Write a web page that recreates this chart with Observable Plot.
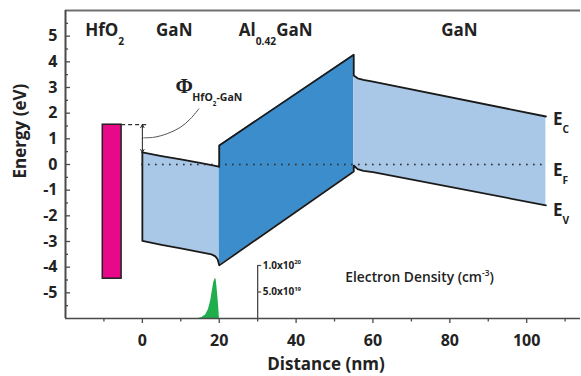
<!DOCTYPE html>
<html><head><meta charset="utf-8">
<script src="https://cdn.jsdelivr.net/npm/d3@7"></script>
<script src="https://cdn.jsdelivr.net/npm/@observablehq/plot@0.6"></script>
<style>html,body{margin:0;padding:0;background:#fff}</style>
</head><body><div id="chart"></div>
<script>
// ---------- data ----------
const regionNames   = ["HfO_{2}", "GaN", "Al_{0.42}GaN", "GaN"];
const regionCenters = [-9.8, 8.3, 34.7, 82.5];

const hfo2X1 = -10.3, hfo2X2 = -5.4, hfo2Ec = 1.55, hfo2Ev = -4.45;

const gan1X  = [0, 5, 10, 15, 18, 19, 19.6, 20];
const gan1Ec = [0.47, 0.33, 0.2, 0.06, -0.02, -0.05, -0.07, -0.09];
const gan1Ev = [-2.98, -3.13, -3.27, -3.41, -3.5, -3.58, -3.7, -3.93];

const alganX  = [20, 55];
const alganEc = [0.74, 4.28];
const alganEv = [-3.93, -0.27];

const gan2X  = [55, 56, 57.5, 60, 105];
const gan2Ec = [3.47, 3.36, 3.3, 3.23, 1.87];
const gan2Ev = [-0.04, -0.18, -0.25, -0.3, -1.59];

const fermiLevel = 0;

// electron density (units of 1e19 cm^-3)
const densX = [14.5, 15.5, 16.5, 17.2, 17.8, 18.2, 18.6, 19.0, 19.2, 19.4, 19.6, 19.85, 20.05];
const densN = [0, 0.2, 0.7, 1.7, 3.4, 5.2, 6.9, 7.6, 7.3, 6.0, 4.4, 2.3, 0];
const densAxisX = 30;
const densTicks = [5, 10];
const densTickLabels = ["5.0x10^{19}", "1.0x10^{20}"];

// leader line from the barrier arrow to the Φ label
const leaderX = [0.36, 2.97, 6.45, 9.91, 12.5, 14.7];
const leaderY = [1.04, 1.06, 1.2, 1.45, 1.78, 2.17];

const xMajor = [0, 20, 40, 60, 80, 100];
const xMinor = [-10, 10, 30, 50, 70, 90, 110];
const yMajor = [-5, -4, -3, -2, -1, 0, 1, 2, 3, 4, 5];
const yMinor = [-5.5, -4.5, -3.5, -2.5, -1.5, -0.5, 0.5, 1.5, 2.5, 3.5, 4.5, 5.5];

const bandLabels = ["E_{C}", "E_{F}", "E_{V}"];

// ---------- layout ----------
const W = 581, H = 376, ML = 65, MR = 1, MT = 10, MB = 58;
const xDomain = [-20, 114], yDomain = [-6, 6];
const pxX = (W - ML - MR) / (xDomain[1] - xDomain[0]);
const pxY = (H - MT - MB) / (yDomain[1] - yDomain[0]);
const densPx = 53; // pixels per 1e20
const toE = n => yDomain[0] + (n / 10) * densPx / pxY;

const rows = [];
function addLayer(layer, xs, ec, ev) { xs.forEach((x, i) => rows.push({layer, x, ec: ec[i], ev: ev[i]})); }
addLayer("GaN1", gan1X, gan1Ec, gan1Ev);
addLayer("AlGaN", alganX, alganEc, alganEv);
addLayer("GaN2", gan2X, gan2Ec, gan2Ev);

const dens = densX.map((x, i) => ({x, n: densN[i]}));
const leader = leaderX.map((x, i) => ({x, y: leaderY[i]}));
const regions = regionNames.map((name, i) => ({name, x: regionCenters[i]}));
const xEnd = gan2X[gan2X.length - 1];
const bandEnds = [gan2Ec[gan2Ec.length - 1], fermiLevel, gan2Ev[gan2Ev.length - 1]]
  .map((y, i) => ({x: xEnd, y, label: bandLabels[i]}));
const bandDy = [3, 6, 5];

const light = "#a9c7e6", dark = "#3b8dcc", magenta = "#e8088a", green = "#1fae4b";
const axisCol = "#4a4a4a";

const chart = Plot.plot({
  width: W, height: H,
  marginLeft: ML, marginRight: MR, marginTop: MT, marginBottom: MB,
  x: {domain: xDomain},
  y: {domain: yDomain},
  style: {fontFamily: "'Open Sans', sans-serif", fontSize: "16px", fontWeight: "bold", color: "#222", background: "#fff"},
  marks: [
    // bands
    Plot.areaY(rows.filter(d => d.layer === "GaN1"), {x: "x", y1: "ev", y2: "ec", fill: light}),
    Plot.areaY(rows.filter(d => d.layer === "AlGaN"), {x: "x", y1: "ev", y2: "ec", fill: dark}),
    Plot.areaY(rows.filter(d => d.layer === "GaN2"), {x: "x", y1: "ev", y2: "ec", fill: light}),
    Plot.line(rows, {x: "x", y: "ec", stroke: "#1a1a1a", strokeWidth: 1.8}),
    Plot.line(rows, {x: "x", y: "ev", stroke: "#1a1a1a", strokeWidth: 1.8}),
    Plot.ruleX([gan1X[0]], {y1: gan1Ev[0], y2: gan1Ec[0], stroke: "#1a1a1a", strokeWidth: 1.8}),
    // Fermi level
    Plot.ruleY([fermiLevel], {x1: gan1X[0], x2: xEnd, stroke: "#333", strokeWidth: 1.8, strokeDasharray: "0,7", strokeLinecap: "round"}),
    // HfO2
    Plot.rect([{x1: hfo2X1, x2: hfo2X2, y1: hfo2Ev, y2: hfo2Ec}], {x1: "x1", x2: "x2", y1: "y1", y2: "y2", fill: magenta, stroke: "#222", strokeWidth: 1.5}),
    // Phi annotation
    Plot.ruleY([hfo2Ec], {x1: hfo2X2, x2: 1.6, stroke: "#333", strokeWidth: 1.2, strokeDasharray: "4,3"}),
    Plot.arrow([0], {x1: 0, x2: 0, y1: (hfo2Ec + gan1Ec[0]) / 2, y2: hfo2Ec, stroke: "#222", strokeWidth: 1, headLength: 5}),
    Plot.arrow([0], {x1: 0, x2: 0, y1: (hfo2Ec + gan1Ec[0]) / 2, y2: gan1Ec[0], stroke: "#222", strokeWidth: 1, headLength: 5}),
    Plot.line(leader, {x: "x", y: "y", curve: "catmull-rom", stroke: "#555", strokeWidth: 1}),
    Plot.text(["Φ"], {x: 10.9, y: 3.05, fontFamily: "'Liberation Serif', serif", fontSize: 21, fontWeight: "bold", fill: "#222"}),
    Plot.text(["HfO_{2}-GaN"], {x: 13.0, y: 2.6, textAnchor: "start", fontSize: 10.5, fill: "#222"}),
    // region labels
    Plot.text(regions, {x: "x", y: 5.2, text: "name", fontSize: 17, fill: "#222"}),
    // band edge labels
    ...bandEnds.map((d, i) => Plot.text([d], {x: "x", y: "y", text: "label", dx: 7, dy: bandDy[i], textAnchor: "start", fontSize: 17, fill: "#222"})),
    // electron density
    Plot.areaY(dens, {x: "x", y1: yDomain[0], y2: d => toE(d.n), fill: green}),
    Plot.ruleX([densAxisX], {y1: toE(0), y2: toE(densTicks[densTicks.length - 1]), stroke: axisCol, strokeWidth: 1.3}),
    Plot.ruleY(densTicks, {y: d => toE(d), x1: densAxisX, x2: densAxisX + 4 / pxX, stroke: axisCol, strokeWidth: 1.2}),
    Plot.text(densTicks, {x: densAxisX, y: d => toE(d), text: (d, i) => densTickLabels[i], dx: 5, textAnchor: "start", fontSize: 10, fill: "#222"}),
    Plot.text(["Electron Density (cm^{-3})"], {x: 52.8, y: -4.4, textAnchor: "start", fontSize: 13.8, fontWeight: 600, fill: "#222"}),
    // axes
    Plot.ruleY(yMajor, {x1: xDomain[0], x2: xDomain[0] + 5 / pxX, stroke: axisCol, strokeWidth: 1.3}),
    Plot.ruleY(yMinor, {x1: xDomain[0], x2: xDomain[0] + 3 / pxX, stroke: axisCol, strokeWidth: 1.3}),
    Plot.axisY({ticks: yMajor, tickSize: 0, tickPadding: 8, tickFormat: d => String(d), label: null, fontSize: 16}),
    Plot.axisX({ticks: xMajor, tickSize: 5, tickPadding: 11, tickFormat: d => String(d), label: null, stroke: axisCol, strokeWidth: 1.3, fontSize: 16}),
    Plot.axisX({ticks: xMinor, tickSize: 3.5, tickFormat: () => "", label: null, stroke: axisCol, strokeWidth: 1.3}),
    Plot.ruleY([yDomain[0]], {stroke: axisCol, strokeWidth: 1.6}),
    Plot.ruleY([yDomain[1]], {stroke: "#6e6e6e", strokeWidth: 2}),
    Plot.ruleX([xDomain[0]], {stroke: axisCol, strokeWidth: 2}),
    Plot.text(["Energy (eV)"], {frameAnchor: "left", dx: -45, dy: 14, rotate: -90, fontSize: 17, fill: "#222"}),
    Plot.text(["Distance (nm)"], {frameAnchor: "bottom", dy: 51, dx: 3, fontSize: 17, fill: "#222"})
  ]
});

document.getElementById("chart").appendChild(chart);

// render _{sub} and ^{sup} markup as tspans
function richText(el) {
  const s = el.textContent;
  if (!/[_^]\{/.test(s)) return;
  const fs = parseFloat(getComputedStyle(el).fontSize);
  const parts = []; const re = /([_^])\{([^}]*)\}/g; let last = 0, m;
  while ((m = re.exec(s))) {
    if (m.index > last) parts.push({t: s.slice(last, m.index), k: ""});
    parts.push({t: m[2], k: m[1]});
    last = re.lastIndex;
  }
  if (last < s.length) parts.push({t: s.slice(last), k: ""});
  while (el.firstChild) el.removeChild(el.firstChild);
  let cur = 0;
  for (const p of parts) {
    const ts = document.createElementNS("http://www.w3.org/2000/svg", "tspan");
    const target = p.k === "_" ? fs * 0.48 : p.k === "^" ? -fs * 0.45 : 0;
    if (target - cur !== 0) ts.setAttribute("dy", target - cur);
    cur = target;
    if (p.k) ts.setAttribute("font-size", fs * 0.6);
    ts.textContent = p.t;
    el.appendChild(ts);
  }
}
chart.querySelectorAll("text").forEach(richText);
</script>
</body></html>
